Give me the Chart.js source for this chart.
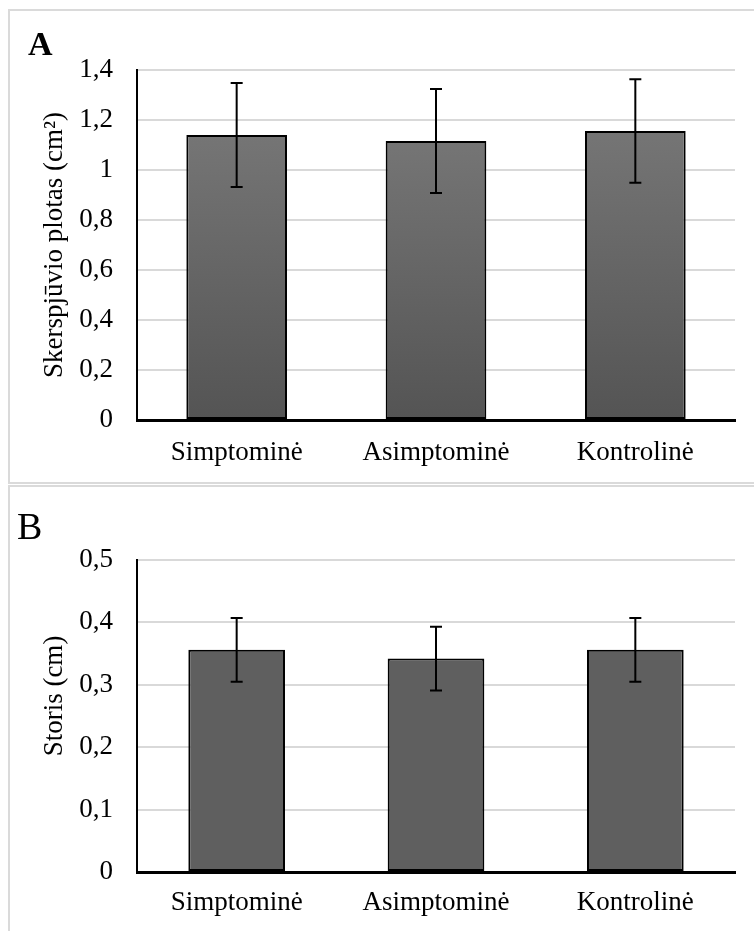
<!DOCTYPE html>
<html>
<head>
<meta charset="utf-8">
<script src="https://cdn.jsdelivr.net/npm/chart.js@4.4.1/dist/chart.umd.min.js"></script>
<style>
  html, body { margin: 0; padding: 0; background: #fff; }
  body { width: 754px; height: 931px; position: relative; overflow: hidden; font-family: 'Liberation Serif', 'Times New Roman', serif; }
  .panel { position: absolute; left: 8px; width: 790px; border: 2px solid #dadada; box-sizing: border-box; }
  #panelA { top: 9px; height: 475px; }
  #panelB { top: 485px; height: 480px; }
  .letter { position: absolute; color: #000; line-height: 1; }
  #letterA { left: 28px; top: 27px; font-size: 34px; font-weight: bold; }
  #letterB { left: 17px; top: 507px; font-size: 38px; }
  canvas { position: absolute; left: 0; }
  #chartA { top: 0; }
  #chartB { top: 487px; }
</style>
</head>
<body>
<div class="panel" id="panelA"></div>
<div class="panel" id="panelB"></div>
<canvas id="chartA" width="754" height="483"></canvas>
<canvas id="chartB" width="754" height="444"></canvas>
<div class="letter" id="letterA">A</div>
<div class="letter" id="letterB">B</div>
<script>
// groups
const categories = ['Simptominė', 'Asimptominė', 'Kontrolinė'];

// A: cross-section area (cm²), mean and error
const areaMeans = [1.14, 1.116, 1.156];
const areaErrors = [0.208, 0.208, 0.207];
const areaTicks = [0, 0.2, 0.4, 0.6, 0.8, 1, 1.2, 1.4];

// B: thickness (cm), mean and error
const thickMeans = [0.356, 0.342, 0.356];
const thickErrors = [0.051, 0.051, 0.051];
const thickTicks = [0, 0.1, 0.2, 0.3, 0.4, 0.5];

const serif = "'Liberation Serif', 'Times New Roman', serif";

function fmt(v) {
  return String(+v.toFixed(2)).replace('.', ',');
}

// error bars drawn from the dataset's own error array
const errorBars = {
  id: 'errorBars',
  afterDatasetsDraw(chart) {
    const errs = chart.options.plugins.errorBars.errors;
    const ds = chart.data.datasets[0].data;
    const x = chart.scales.x, y = chart.scales.y;
    const c = chart.ctx;
    c.save();
    c.strokeStyle = '#000';
    c.lineWidth = 2;
    ds.forEach((v, i) => {
      const px = x.getPixelForValue(i);
      const top = y.getPixelForValue(v + errs[i]);
      const bot = y.getPixelForValue(v - errs[i]);
      c.beginPath();
      c.moveTo(px, top); c.lineTo(px, bot);
      c.moveTo(px - 6, top); c.lineTo(px + 6, top);
      c.moveTo(px - 6, bot); c.lineTo(px + 6, bot);
      c.stroke();
    });
    c.restore();
  }
};

// rotated y-axis title
const yTitle = {
  id: 'yTitle',
  afterDraw(chart) {
    const o = chart.options.plugins.yTitle;
    const a = chart.chartArea;
    const c = chart.ctx;
    c.save();
    c.translate(o.x, (a.top + a.bottom) / 2 + o.shift);
    c.rotate(-Math.PI / 2);
    c.font = '27px ' + serif;
    c.fillStyle = '#000';
    c.textAlign = 'center';
    c.textBaseline = 'middle';
    c.fillText(o.text, 0, 0);
    c.restore();
  }
};

function makeChart(id, means, errs, ticks, opts) {
  new Chart(document.getElementById(id), {
    type: 'bar',
    data: {
      labels: categories,
      datasets: [{
        data: means,
        backgroundColor: opts.fill,
        borderColor: '#000',
        borderWidth: 2,
        borderSkipped: false,
        barPercentage: opts.barPct,
        categoryPercentage: 1
      }]
    },
    options: {
      responsive: false,
      animation: false,
      layout: { padding: { top: opts.padTop, right: 19, bottom: 0, left: 0 } },
      plugins: {
        legend: { display: false },
        tooltip: { enabled: false },
        errorBars: { errors: errs },
        yTitle: { text: opts.title, x: 55, shift: opts.titleShift }
      },
      scales: {
        x: {
          grid: { display: false, drawTicks: false },
          border: { color: '#000', width: 3 },
          ticks: { color: '#000', padding: opts.xPad, font: { family: serif, size: 27 } },
          afterFit: s => { s.height = opts.xHeight; }
        },
        y: {
          min: ticks[0],
          max: ticks[ticks.length - 1],
          afterBuildTicks: s => { s.ticks = ticks.map(v => ({ value: v })); },
          grid: { color: '#d9d9d9', lineWidth: 2, drawTicks: false },
          border: { color: '#000', width: 2 },
          ticks: { color: '#000', padding: 24, font: { family: serif, size: 27 }, callback: v => fmt(v) },
          afterFit: s => { s.width = 137; }
        }
      }
    },
    plugins: [errorBars, yTitle]
  });
}

function areaFill(ctx) {
  const chart = ctx.chart;
  const y = chart.scales.y;
  if (!y || !chart.chartArea) return '#666';
  const top = y.getPixelForValue(ctx.raw);
  const g = chart.ctx.createLinearGradient(0, top, 0, chart.chartArea.bottom);
  g.addColorStop(0, '#757575');
  g.addColorStop(1, '#545454');
  return g;
}

makeChart('chartA', areaMeans, areaErrors, areaTicks, {
  fill: areaFill, barPct: 0.505, padTop: 70, xHeight: 63, xPad: 17,
  title: 'Skerspjūvio plotas (cm²)', titleShift: 0
});

makeChart('chartB', thickMeans, thickErrors, thickTicks, {
  fill: '#5f5f5f', barPct: 0.485, padTop: 73, xHeight: 59, xPad: 15,
  title: 'Storis (cm)', titleShift: -20
});
</script>
</body>
</html>
